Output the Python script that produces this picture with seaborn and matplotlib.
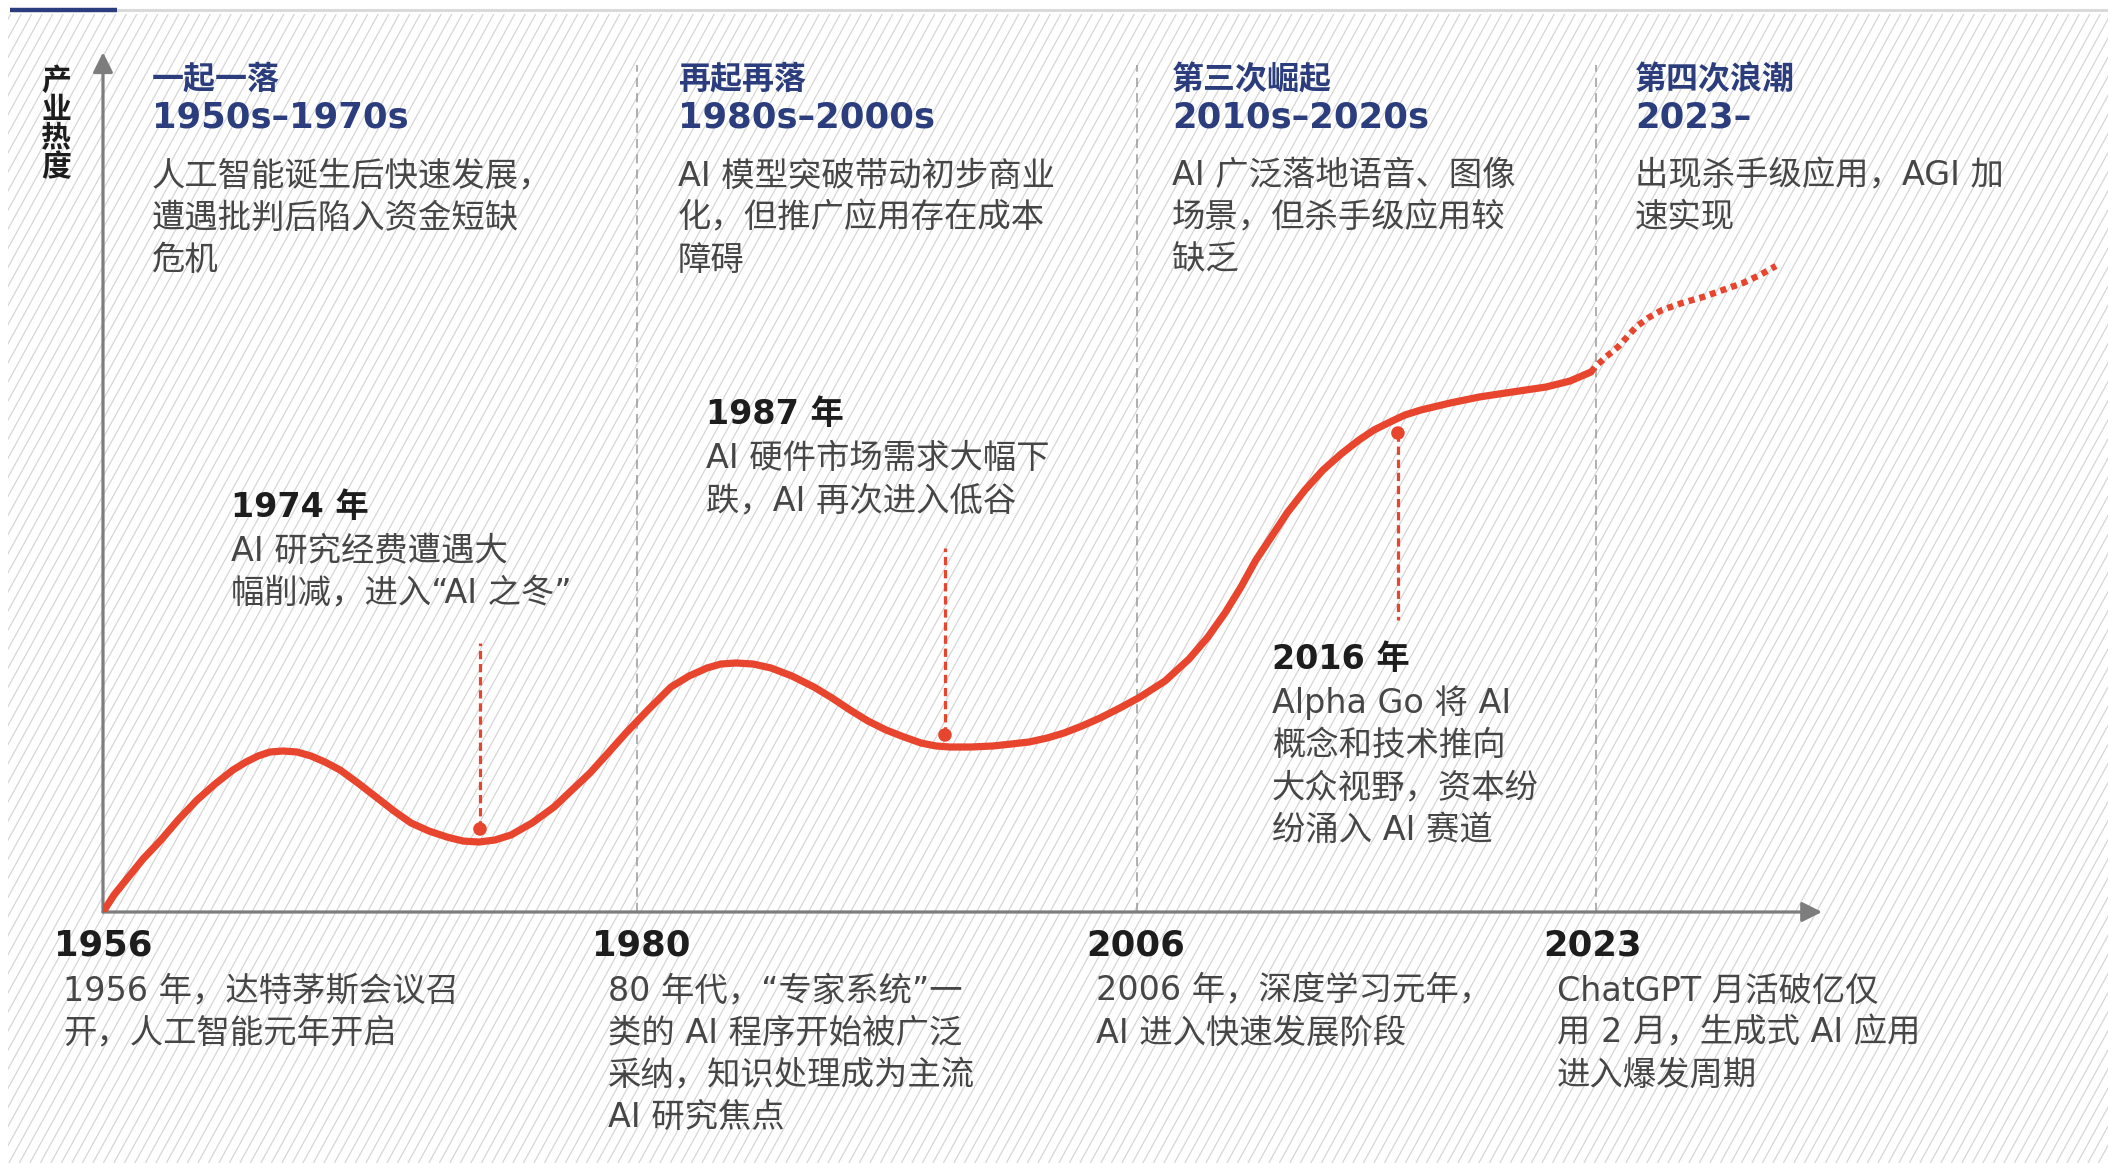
import numpy as np
import pandas as pd
import matplotlib
matplotlib.use("Agg")
import matplotlib.pyplot as plt
import seaborn as sns
from matplotlib.collections import LineCollection

# ---------------- data ----------------
# timeline position (0 = 1956 at origin, 100 = tip of time axis) vs industry heat (0-100)
curve_pos = [0.0, 0.64, 1.34, 2.33, 3.37, 4.42, 5.47, 6.52, 7.56, 8.32, 9.02, 9.71,
             10.47, 11.29, 12.10, 12.91, 13.79, 14.83, 15.88, 16.93, 17.92, 18.96, 20.01,
             20.94, 21.87, 22.80, 23.73, 24.96, 26.24, 27.28, 28.33, 29.38, 30.42, 31.70,
             33.04, 34.09, 35.14, 35.95, 36.82, 37.81, 38.86, 40.08, 41.36, 42.41, 43.46,
             44.50, 45.55, 46.60, 47.59, 48.46, 49.27, 50.49, 51.77, 52.82, 53.87, 54.92,
             55.90, 56.95, 58.00, 59.16, 60.33, 61.78, 63.18, 64.28, 65.27, 66.20, 67.07,
             68.00, 68.88, 69.92, 70.97, 72.02, 73.07, 73.94, 74.87, 75.74, 76.67, 78.36,
             80.05, 81.97, 83.94, 85.34, 86.56]
curve_heat = [0.0, 2.01, 3.78, 6.26, 8.50, 10.98, 13.22, 15.11, 16.77, 17.71, 18.42, 18.89,
              19.01, 18.89, 18.42, 17.71, 16.77, 15.23, 13.58, 11.92, 10.51, 9.56, 8.85,
              8.38, 8.26, 8.50, 9.09, 10.51, 12.40, 14.40, 16.41, 18.77, 21.13, 23.85,
              26.56, 27.86, 28.81, 29.28, 29.40, 29.28, 28.81, 27.86, 26.56, 25.27, 23.85,
              22.55, 21.49, 20.66, 19.95, 19.60, 19.48, 19.48, 19.60, 19.83, 20.07, 20.54,
              21.13, 21.96, 22.90, 24.09, 25.38, 27.27, 29.87, 32.47, 35.30, 38.37, 41.56,
              44.39, 47.11, 49.82, 52.18, 54.07, 55.73, 56.91, 57.85, 58.68, 59.27, 60.09,
              60.80, 61.39, 61.98, 62.69, 63.75]
future_pos = [86.56, 86.80, 87.43, 88.13, 88.66, 89.18, 89.88, 90.69, 91.86, 93.08,
              94.24, 95.40, 96.39, 97.32]
future_heat = [63.75, 64.35, 65.53, 66.71, 67.89, 69.07, 70.13, 71.07, 71.90, 72.61,
               73.44, 74.26, 75.21, 76.27]

event_years = ["1974 年", "1987 年", "2016 年"]
event_pos = [21.93, 48.98, 75.33]
event_heat = [9.80, 20.90, 56.55]
event_stem_end = [31.76, 42.98, 34.47]
event_desc = [
    ["AI 研究经费遭遇大", "幅削减，进入“AI 之冬”"],
    ["AI 硬件市场需求大幅下", "跌，AI 再次进入低谷"],
    ["Alpha Go 将 AI", "概念和技术推向", "大众视野，资本纷", "纷涌入 AI 赛道"],
]

milestone_labels = ["1956", "1980", "2006", "2023"]
milestone_pos = [0.0, 31.06, 60.15, 86.85]
milestone_desc = [
    ["1956 年，达特茅斯会议召", "开，人工智能元年开启"],
    ["80 年代，“专家系统”一", "类的 AI 程序开始被广泛", "采纳，知识处理成为主流", "AI 研究焦点"],
    ["2006 年，深度学习元年，", "AI 进入快速发展阶段"],
    ["ChatGPT 月活破亿仅", "用 2 月，生成式 AI 应用", "进入爆发周期"],
]

era_titles = ["一起一落", "再起再落", "第三次崛起", "第四次浪潮"]
era_ranges = ["1950s–1970s", "1980s–2000s", "2010s–2020s", "2023–"]
era_desc = [
    ["人工智能诞生后快速发展，", "遭遇批判后陷入资金短缺", "危机"],
    ["AI 模型突破带动初步商业", "化，但推广应用存在成本", "障碍"],
    ["AI 广泛落地语音、图像", "场景，但杀手级应用较", "缺乏"],
    ["出现杀手级应用，AGI 加", "速实现"],
]
y_label = "产业热度"

# ---------------- style ----------------
RED = "#E8452F"
NAVY = "#2B3D7C"
DARK = "#1d1d1d"
BODY = "#464646"
AXIS = "#7d7d7d"

W, H, DPI = 2108, 1163, 100
sns.set_theme(style="white")
plt.rcParams['font.family'] = ['DejaVu Sans', 'Noto Sans CJK SC']
plt.rcParams['axes.unicode_minus'] = False

fig = plt.figure(figsize=(W / DPI, H / DPI), dpi=DPI, facecolor="white")

# background hatch (decorative)
bg = fig.add_axes([8 / W, 0, (W - 8) / W, (H - 14) / H])
bg.set_xlim(8, W)
bg.set_ylim(H, 14)
bg.axis("off")
slope = 0.55
segs = []
for x in np.arange(8 - slope * H, W + 10, 10.5):
    segs.append([(x, H), (x + slope * (H - 14), 14)])
bg.add_collection(LineCollection(segs, colors="#d4d4d4", linewidths=0.85))

# top rule
deco = fig.add_axes([0, 0, 1, 1])
deco.set_xlim(0, W)
deco.set_ylim(H, 0)
deco.axis("off")
deco.patch.set_alpha(0)
deco.plot([10, W], [10, 10], color="#dadada", lw=2.2, solid_capstyle="butt")
deco.plot([10, 117], [9.5, 9.5], color=NAVY, lw=3.2, solid_capstyle="butt")

# main axes
ax = fig.add_axes([103 / W, (H - 912) / H, 1719 / W, 847 / H])
ax.set_xlim(0, 100)
ax.set_ylim(0, 100)
ax.axis("off")
ax.patch.set_alpha(0)

# era dividers
ax.vlines(milestone_pos[1:], 0, 100.6, colors="#9a9a9a", linewidth=1.1,
          linestyles=(0, (6, 4)), zorder=1)

# axes with arrows
arrow = dict(arrowstyle="-|>", color=AXIS, lw=2.3, mutation_scale=30,
             shrinkA=0, shrinkB=0)
ax.annotate("", xy=(0, 101.5), xytext=(0, 0), arrowprops=arrow, annotation_clip=False)
ax.annotate("", xy=(100, 0), xytext=(0, 0), arrowprops=arrow, annotation_clip=False)

# curve
df = pd.DataFrame({"pos": curve_pos, "heat": curve_heat})
sns.lineplot(data=df, x="pos", y="heat", sort=False, estimator=None, color=RED,
             linewidth=5.2, ax=ax, zorder=4, solid_capstyle="round",
             solid_joinstyle="round")
df_f = pd.DataFrame({"pos": future_pos, "heat": future_heat})
sns.lineplot(data=df_f, x="pos", y="heat", sort=False, estimator=None, color=RED,
             linewidth=4.6, ax=ax, zorder=4)
ax.lines[-1].set_linestyle((0, (0.95, 0.8)))
ax.lines[-1].set_dash_capstyle("butt")

# event stems and dots
ax.vlines(event_pos, event_heat, event_stem_end, colors=RED, linewidth=2.3,
          linestyles=(0, (2.6, 1.5)), zorder=3)
sns.scatterplot(x=event_pos, y=event_heat, s=95, color=RED, edgecolor="none",
                ax=ax, zorder=5, legend=False)
ax.set_xlim(0, 100)
ax.set_ylim(0, 100)
ax.axis("off")


def put(px, py, s, size, color, weight="normal", ha="left"):
    fig.text(px / W, 1 - py / H, s, fontsize=size, color=color, fontweight=weight,
             va="center", ha=ha)


# y label (stacked)
for i, ch in enumerate(y_label):
    put(56, 81 + 29 * i, ch, 21.5, DARK, "bold", ha="center")

# era headers
era_x = [152, 678, 1172, 1635]
for x, t, r, d in zip(era_x, era_titles, era_ranges, era_desc):
    put(x, 80, t, 23, NAVY, "bold")
    put(x, 117, r, 25.5, NAVY, "bold")
    for j, line in enumerate(d):
        put(x, 176 + 42 * j, line, 24, BODY)

# event annotations
ev_x = [231, 706, 1272]
ev_y = [507, 414, 659]
for x, y, t, d in zip(ev_x, ev_y, event_years, event_desc):
    put(x, y, t, 24, DARK, "bold")
    for j, line in enumerate(d):
        put(x, y + 44 + 42.6 * j, line, 24, BODY)

# milestone labels
ms_x = [54, 592, 1086, 1543]
ds_x = [63, 608, 1096, 1557]
for x, dx, t, d in zip(ms_x, ds_x, milestone_labels, milestone_desc):
    put(x, 946, t, 25.5, DARK, "bold")
    for j, line in enumerate(d):
        put(dx, 991 + 42 * j, line, 24, BODY)

fig.savefig("out.png", dpi=DPI, facecolor="white")
